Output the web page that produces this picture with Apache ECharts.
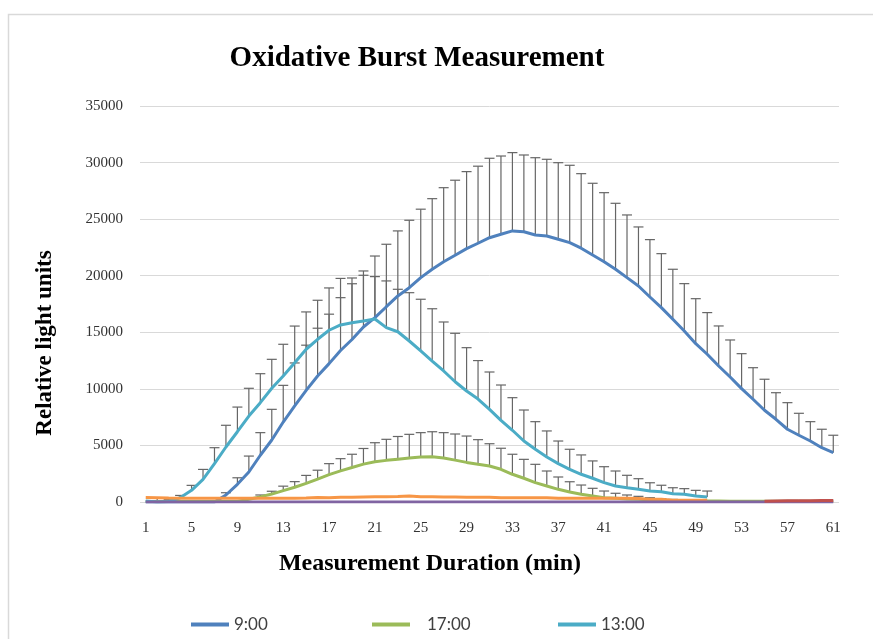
<!DOCTYPE html>
<html>
<head>
<meta charset="utf-8">
<script src="https://cdn.jsdelivr.net/npm/echarts@6/dist/echarts.min.js"></script>
<style>
  html, body { margin: 0; padding: 0; background: #fff; }
  #chart { width: 873px; height: 639px; }
</style>
</head>
<body>
<div id="chart"></div>
<script>
const minutes = ["1","2","3","4","5","6","7","8","9","10","11","12","13","14","15","16","17","18","19","20",
  "21","22","23","24","25","26","27","28","29","30","31","32","33","34","35","36","37","38","39","40",
  "41","42","43","44","45","46","47","48","49","50","51","52","53","54","55","56","57","58","59","60","61"];

// 9:00
const mean0900 = [0,0,0,0,0,0,0,620,1560,2650,4130,5480,7070,8490,9860,11140,12230,13390,14360,15470,
  16290,17260,18210,18940,19830,20570,21240,21810,22390,22870,23360,23660,23960,23890,23600,23510,23220,22920,22430,21830,
  21240,20570,19830,19090,18120,17180,16150,15120,13990,13060,12020,11050,10020,9080,8110,7310,6430,5900,5390,4800,4360];
const sd0900 = [0,0,0,0,0,0,0,200,580,1410,2000,2710,3240,3800,4000,4220,4370,4670,4930,4950,
  5450,5520,5750,5960,6050,6240,6540,6630,6810,6810,7020,6920,6920,6780,6830,6780,6770,6840,6590,6340,
  6100,5830,5540,5220,5070,4770,4420,4180,3980,3680,3540,3270,3090,2790,2740,2350,2350,1940,1710,1630,1540];

// 17:00
const mean1700 = [50,50,50,50,50,50,50,50,50,250,450,700,1000,1300,1650,2030,2420,2750,3050,3350,
  3550,3680,3780,3880,3970,3990,3880,3700,3500,3330,3180,2890,2450,2100,1710,1410,1120,880,680,530,
  380,330,270,240,200,160,130,110,100,90,80,70,70,70,70,70,70,70,70,70,70];
const sd1700 = [0,0,0,0,0,0,0,0,0,100,170,250,400,500,700,780,970,1080,1170,1380,
  1690,1860,2010,2100,2160,2220,2250,2310,2330,2180,1970,1860,1770,1670,1620,1330,1090,910,820,680,
  590,440,350,260,180,120,100,0,0,0,0,0,0,0,0,0,0,0,0,0,0];

// 13:00
const mean1300 = [100,0,50,380,1030,2000,3390,4860,6210,7600,8780,10050,11140,12310,13500,14380,15180,15650,15850,16000,
  16180,15410,15050,14230,13350,12460,11580,10630,9810,9100,8190,7220,6340,5390,4660,3980,3390,2890,2450,2100,
  1710,1410,1260,1120,970,910,730,680,530,440];
const sd1300 = [0,350,150,200,440,880,1410,1920,2180,2450,2560,2560,2800,3240,3300,3450,3740,4110,3950,4040,
  3740,4130,3750,4270,4570,4620,4330,4280,3830,3400,3300,3120,2880,2740,2440,2300,2000,1770,1710,1530,
  1410,1330,1100,940,730,570,530,500,500,530];

// unlabelled series near zero
const seriesOrange = [400,380,350,330,330,330,330,330,330,330,340,340,340,340,350,400,380,430,420,440,
  460,470,480,520,470,460,450,440,430,420,420,380,380,380,380,380,330,330,330,330,
  330,330,330,300,250,250,150,150,150,150];
const seriesPurple = [0,0,0,0,0,0,0,0,0,0,0,0,0,0,0,0,0,0,0,0,
  0,0,0,0,0,0,0,0,0,0,0,0,0,0,0,0,0,0,0,0,
  0,0,0,0,0,0,0,0,0,0,0,0,0,0,0,0,0,0,0,0,0];
const seriesRed = [null,null,null,null,null,null,null,null,null,null,null,null,null,null,null,null,null,null,null,null,
  null,null,null,null,null,null,null,null,null,null,null,null,null,null,null,null,null,null,null,null,
  null,null,null,null,null,null,null,null,null,null,null,null,null,null,60,90,100,110,120,130,130];

const yTicks = [0, 5000, 10000, 15000, 20000, 25000, 30000, 35000];

const chart = echarts.init(document.getElementById("chart"));

const errData = (mean, sd) => mean.map((m, i) => [i, m, sd[i]]);

const renderErr = (params, api) => {
  const e = api.value(2);
  if (!e) return;
  const base = api.coord([api.value(0), api.value(1)]);
  const top = api.coord([api.value(0), api.value(1) + e]);
  const st = { stroke: "#666", lineWidth: 1.2 };
  return {
    type: "group",
    children: [
      { type: "line", shape: { x1: base[0], y1: base[1], x2: top[0], y2: top[1] }, style: st },
      { type: "line", shape: { x1: top[0] - 5, y1: top[1], x2: top[0] + 5, y2: top[1] }, style: st },
    ],
  };
};

const errSeries = (mean, sd) => ({
  type: "custom",
  renderItem: renderErr,
  data: errData(mean, sd),
  encode: { x: 0, y: 1 },
  z: 1,
  silent: true,
});

const lineSeries = (name, data, color) => ({
  name: name,
  type: "line",
  data: data,
  showSymbol: false,
  symbol: "none",
  lineStyle: { color: color, width: 3 },
  itemStyle: { color: color },
  z: 2,
});

const legendItem = (name, left, pad) => ({
  data: [name],
  left: left,
  top: 611,
  icon: "rect",
  itemWidth: 38,
  itemHeight: 4,
  textStyle: { fontFamily: "Lato", fontSize: 17, color: "#404040", padding: [0, 0, 0, pad] },
});

let option = {
  animation: false,
  title: {
    text: "Oxidative Burst Measurement",
    left: 417,
    top: 44,
    textAlign: "center",
    padding: 0,
    textStyle: { fontFamily: "Liberation Serif", fontWeight: "bold", fontSize: 29, color: "#000" },
  },
  graphic: [
    {
      type: "rect",
      left: 6,
      top: 12,
      shape: { width: 900, height: 700 },
      style: { fill: null, stroke: "#d9d9d9", lineWidth: 1.5 },
      silent: true,
    },
    {
      type: "text",
      x: 45,
      y: 343,
      rotation: Math.PI / 2,
      style: {
        text: "Relative light units",
        fontFamily: "Liberation Serif",
        fontWeight: "bold",
        fontSize: 23,
        fill: "#000",
        align: "center",
        verticalAlign: "middle",
      },
    },
    {
      type: "text",
      x: 430,
      y: 564,
      style: {
        text: "Measurement Duration (min)",
        fontFamily: "Liberation Serif",
        fontWeight: "bold",
        fontSize: 24,
        fill: "#000",
        align: "center",
        verticalAlign: "middle",
      },
    },
  ],
  legend: [
    legendItem("9:00", 186, 0),
    legendItem("17:00", 367, 12),
    legendItem("13:00", 553, 0),
  ],
  grid: { left: 140, right: 34, top: 106, bottom: 137 },
  xAxis: {
    type: "category",
    data: minutes,
    boundaryGap: true,
    axisTick: { show: false },
    axisLine: { show: false },
    axisLabel: {
      interval: 3,
      margin: 19,
      fontFamily: "Liberation Serif",
      fontSize: 15,
      color: "#333",
    },
  },
  yAxis: {
    type: "value",
    min: yTicks[0],
    max: yTicks[yTicks.length - 1],
    interval: 5000,
    axisLine: { show: false },
    axisTick: { show: false },
    splitLine: { lineStyle: { color: "#d9d9d9", width: 1 } },
    axisLabel: {
      margin: 17,
      fontFamily: "Liberation Serif",
      fontSize: 15,
      color: "#333",
      formatter: (v) => String(v),
    },
  },
  series: [
    errSeries(mean0900, sd0900),
    errSeries(mean1700, sd1700),
    errSeries(mean1300, sd1300),
    lineSeries("9:00", mean0900, "#4F81BD"),
    lineSeries("17:00", mean1700, "#9BBB59"),
    lineSeries("13:00", mean1300, "#4BACC6"),
    lineSeries("Series 4", seriesOrange, "#F79646"),
    lineSeries("Series 5", seriesPurple, "#8064A2"),
    lineSeries("Series 6", seriesRed, "#C0504D"),
  ],
};

chart.setOption(option);
</script>
</body>
</html>
